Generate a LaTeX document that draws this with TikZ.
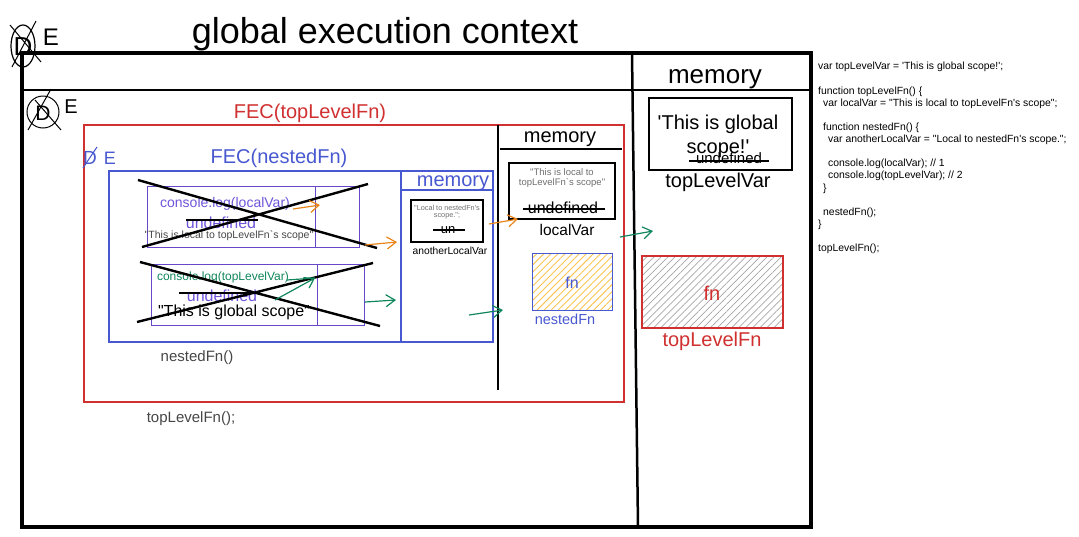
\documentclass[tikz,border=0pt]{standalone}
\usepackage{fontspec}
\setmainfont{Liberation Sans}[Ligatures=TeXOff]
\usepackage{tikz}
\usetikzlibrary{arrows.meta,patterns.meta}
\definecolor{fec_red}{RGB}{208,48,48}
\definecolor{fec_blue}{RGB}{72,88,208}
\definecolor{log_purple}{RGB}{112,84,216}
\definecolor{box_purple}{RGB}{104,72,200}
\definecolor{ref_green}{RGB}{16,134,92}
\definecolor{ref_orange}{RGB}{232,132,24}
\definecolor{note_gray}{RGB}{70,70,70}
\definecolor{val_gray}{RGB}{110,110,110}
\definecolor{hatch_yellow}{RGB}{250,196,80}
\newcommand{\fsz}[1]{\fontsize{#1}{#1}\selectfont}

\begin{document}
\begin{tikzpicture}[x=1pt,y=-1pt,
    ptr/.style={-{Straight Barb[length=9pt,width=12pt]},line width=1.2pt},
    strike/.style={line width=1.3pt},
    cross/.style={line width=2.4pt}]
  \useasboundingbox (0,0) rectangle (1079,536);
  % global execution context
  \draw[line width=4pt] (22,53) rectangle (811,527);
  \draw[line width=2pt] (22,90) -- (811,90);
  \draw[line width=2.5pt] (632,53) -- (638,527);
  \node[font=\fsz{36}] (gec_title) at (385,34) {global execution context};
  \node[font=\fsz{26}] (gec_mem) at (715,79) {memory};
  % crossed D and E marks
  \draw[line width=1.2pt] (23,46) ellipse (12 and 21);
  \node[font=\fsz{26}] (gec_d) at (23,47) {D};
  \draw[line width=1pt] (10,25) -- (41,62) (12,67) -- (36,21);
  \node[font=\fsz{24}] (gec_e) at (51,37) {E};
  \draw[line width=1pt] (43,112) circle (16);
  \node[font=\fsz{21}] (fec_d) at (43,113) {D};
  \draw[line width=1pt] (28,130) -- (51,89) (35,100) -- (61,130);
  \node[font=\fsz{20}] (fec_e) at (71,107) {E};

  % FEC(topLevelFn)
  \draw[fec_red,line width=2pt] (84,125) rectangle (624,402);
  \node[fec_red,font=\fsz{20}] (top_title) at (310,113) {FEC(topLevelFn)};
  \draw[line width=1.6pt] (498,125) -- (498,390);
  \node[font=\fsz{20}] (top_mem) at (560,139) {memory};
  \draw[line width=1.4pt] (500,149) -- (622,149);

  % FEC(nestedFn)
  \draw[fec_blue,line width=1.2pt] (109,171) rectangle (493,342)
    (401,171) -- (401,342) (401,190) -- (493,190);
  \node[fec_blue,font=\fsz{20}] (nest_title) at (279,158) {FEC(nestedFn)};
  \node[fec_blue,font=\fsz{19}] (nest_d) at (90,158) {D};
  \draw[fec_blue,line width=1pt] (83,168) -- (97,147);
  \node[fec_blue,font=\fsz{18}] (nest_e) at (110,158) {E};
  \node[fec_blue,font=\fsz{20}] (nest_mem) at (453,183) {memory};

  % console.log(localVar)
  \draw[box_purple,line width=1pt] (147,186) rectangle (359,247) (315,186) -- (315,247);
  \node[log_purple,font=\fsz{14}] (log_local) at (225,204) {console.log(localVar)};
  \node[log_purple,font=\fsz{16}] (log_local_undef) at (221,223) {undefined};
  \draw[strike] (186,220) -- (258,220);
  \node[note_gray,font=\fsz{10.5}] (log_local_val) at (229,236) {"This is local to topLevelFn`s scope"};
  \draw[cross] (138,180) -- (377,248) (142,247) -- (368,184);

  % console.log(topLevelVar)
  \draw[box_purple,line width=1pt] (151,264) rectangle (364,325) (317,264) -- (317,325);
  \node[ref_green,font=\fsz{12}] (log_top) at (223,277) {console.log(topLevelVar)};
  \node[log_purple,font=\fsz{16}] (log_top_undef) at (222,296) {undefined};
  \draw[strike] (179,293) -- (257,293);
  \node[font=\fsz{16}] (log_top_val) at (234,312) {"This is global scope"};
  \draw[cross] (140,262) -- (380,326) (137,322) -- (373,263);

  % nestedFn memory
  \draw[line width=1.8pt] (411,200) rectangle (483,242);
  \node[val_gray,font=\fsz{7.3},align=center] (another_val) at (447,212)
    {"Local to nestedFn's\\ scope.";};
  \node[font=\fsz{13}] (another_undef) at (448,230) {un};
  \draw[strike] (433,230) -- (465,230);
  \node[font=\fsz{10.3}] (another_name) at (450,251) {anotherLocalVar};

  % topLevelFn memory
  \draw[line width=1.6pt] (509,163) rectangle (615,219);
  \node[val_gray,font=\fsz{9.5},align=center] (local_val) at (562,178)
    {"This is local to\\ topLevelFn`s scope"};
  \node[font=\fsz{16}] (local_undef) at (563,208) {undefined};
  \draw[strike] (523,209) -- (605,209);
  \node[font=\fsz{15.5}] (local_name) at (567,230) {localVar};
  \fill[pattern={Lines[angle=45,distance=5pt,line width=0.9pt]},pattern color=hatch_yellow]
    (532,253) rectangle (612,310);
  \draw[fec_blue,line width=1pt] (532,253) rectangle (612,310);
  \node[fec_blue,font=\fsz{16}] (nest_fn) at (572,283) {fn};
  \node[fec_blue,font=\fsz{14.5}] (nest_fn_name) at (565,319) {nestedFn};

  % global memory
  \draw[line width=1.6pt] (649,98) rectangle (792,170);
  \node[font=\fontsize{20}{24}\selectfont,align=center] (top_val) at (718,136)
    {'This is global\\ scope!'};
  \node[font=\fsz{15}] (top_undef) at (729,158) {undefined};
  \draw[strike] (689,161) -- (769,161);
  \node[font=\fsz{20}] (top_name) at (718,182) {topLevelVar};
  \fill[pattern={Lines[angle=45,distance=5pt,line width=0.7pt]},pattern color=black!35]
    (642,256) rectangle (783,328);
  \draw[fec_red,line width=1.2pt] (642,256) rectangle (783,328);
  \node[fec_red,font=\fsz{20}] (top_fn) at (712,293) {fn};
  \node[fec_red,font=\fsz{20}] (top_fn_name) at (712,341) {topLevelFn};

  % calls
  \node[note_gray,font=\fsz{15}] (call_nested) at (197,358) {nestedFn()};
  \node[note_gray,font=\fsz{15}] (call_top) at (191,419) {topLevelFn();};

  % lookup arrows
  \coordinate (o1a) at (293,209); \coordinate (o1b) at (320,205);
  \coordinate (o2a) at (365,245); \coordinate (o2b) at (397,242);
  \coordinate (o3a) at (489,224); \coordinate (o3b) at (518,219);
  \draw[ptr,ref_orange] (o1a) -- (o1b);
  \draw[ptr,ref_orange] (o2a) -- (o2b);
  \draw[ptr,ref_orange] (o3a) -- (o3b);
  \coordinate (g1a) at (275,300); \coordinate (g1b) at (315,278);
  \coordinate (g1c) at (287,280);
  \coordinate (g2a) at (365,302); \coordinate (g2b) at (396,300);
  \coordinate (g3a) at (469,315); \coordinate (g3b) at (503,310);
  \coordinate (g4a) at (620,237); \coordinate (g4b) at (653,231);
  \draw[ptr,ref_green] (g1a) -- (g1b);
  \draw[line width=1.2pt,ref_green] (g1c) -- (g1b);
  \draw[ptr,ref_green] (g2a) -- (g2b);
  \draw[ptr,ref_green] (g3a) -- (g3b);
  \draw[ptr,ref_green] (g4a) -- (g4b);

  % source code
  \node[anchor=north west,inner sep=0pt,align=left,font=\fontsize{10.4}{12.13}\selectfont] (code) at (818,62)
    {var topLevelVar = 'This is global scope!';\\[12.13pt]
     function topLevelFn() \{\\
     \hspace*{5pt}var localVar = "This is local to topLevelFn's scope";\\[12.13pt]
     \hspace*{5pt}function nestedFn() \{\\
     \hspace*{10pt}var anotherLocalVar = "Local to nestedFn's scope.";\\[12.13pt]
     \hspace*{10pt}console.log(localVar); // 1\\
     \hspace*{10pt}console.log(topLevelVar); // 2\\
     \hspace*{5pt}\}\\[12.13pt]
     \hspace*{5pt}nestedFn();\\
     \}\\[12.13pt]
     topLevelFn();};
\end{tikzpicture}
\end{document}
